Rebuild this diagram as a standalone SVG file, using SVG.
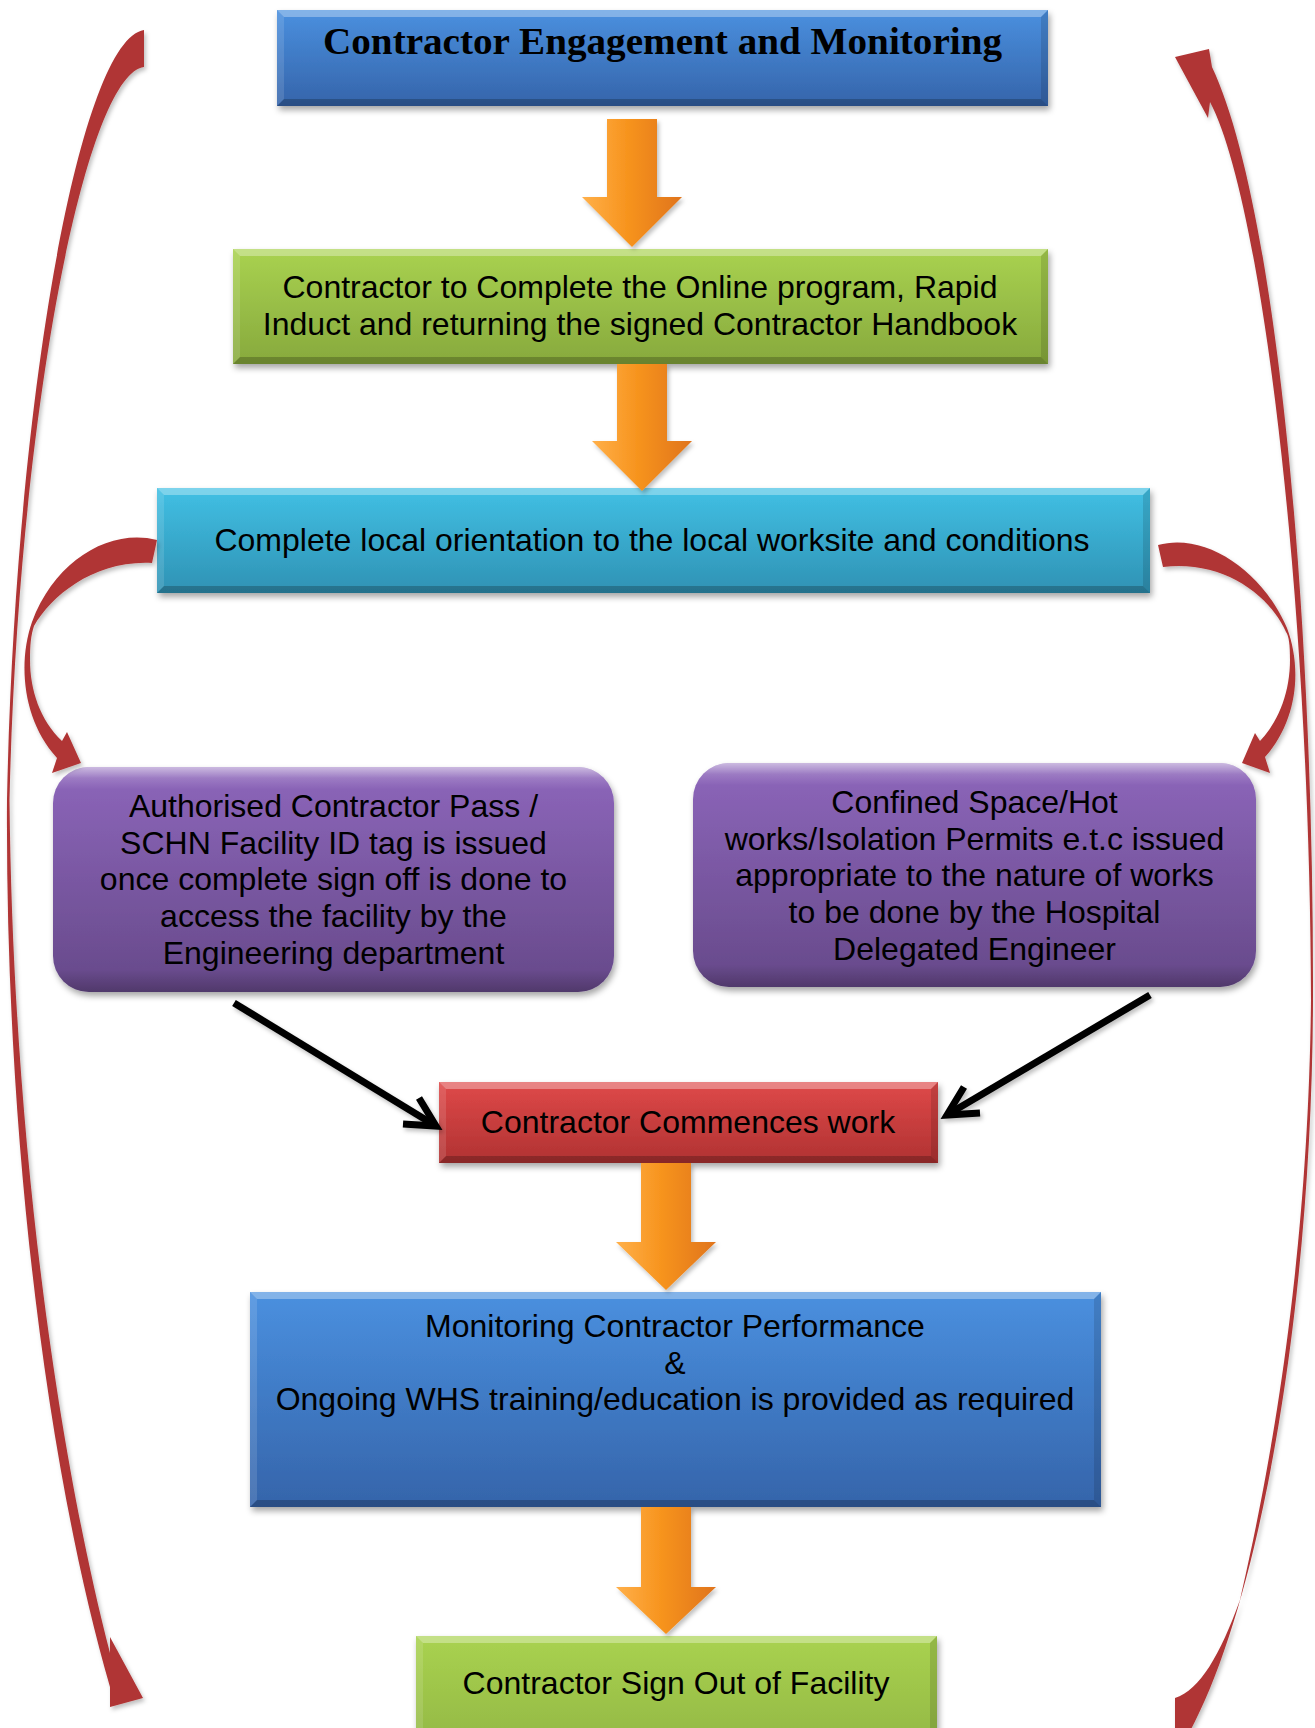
<svg xmlns="http://www.w3.org/2000/svg" width="1315" height="1728" viewBox="0 0 1315 1728">
<defs>
<style>
.t{font-family:"Liberation Sans",Arial,sans-serif;font-size:32px;fill:#000;text-anchor:middle}
.title{font-family:"Liberation Serif","Times New Roman",serif;font-size:38px;font-weight:bold;fill:#000;text-anchor:middle}
.bt{fill:#fff;fill-opacity:.32}
.bl{fill:#fff;fill-opacity:.12}
.br{fill:#000;fill-opacity:.12}
.bb{fill:#000;fill-opacity:.22}
.red{fill:#b03434}
.orange{fill:url(#gOrange)}
.blk{fill:none;stroke:#000;stroke-width:7}
</style>
<linearGradient id="gBlue" x1="0" y1="0" x2="0" y2="1"><stop offset="0" stop-color="#4a90df"/><stop offset="1" stop-color="#3564aa"/></linearGradient>
<linearGradient id="gGreen" x1="0" y1="0" x2="0" y2="1"><stop offset="0" stop-color="#a9d250"/><stop offset="1" stop-color="#87a93d"/></linearGradient>
<linearGradient id="gGreen2" x1="0" y1="0" x2="0" y2="1"><stop offset="0" stop-color="#a9d250"/><stop offset="1" stop-color="#93b844"/></linearGradient>
<linearGradient id="gCyan" x1="0" y1="0" x2="0" y2="1"><stop offset="0" stop-color="#41c0e4"/><stop offset="1" stop-color="#2f92b4"/></linearGradient>
<linearGradient id="gPurple" x1="0" y1="0" x2="0" y2="1"><stop offset="0" stop-color="#8d66bb"/><stop offset="1" stop-color="#664989"/></linearGradient>
<linearGradient id="gRed" x1="0" y1="0" x2="0" y2="1"><stop offset="0" stop-color="#df4949"/><stop offset="1" stop-color="#b03232"/></linearGradient>
<linearGradient id="gOrange" x1="0" y1="0" x2="1" y2="0"><stop offset="0" stop-color="#ffb04a"/><stop offset="0.45" stop-color="#f7941e"/><stop offset="1" stop-color="#e0741c"/></linearGradient>
<linearGradient id="gGloss" x1="0" y1="0" x2="0" y2="1"><stop offset="0" stop-color="#fff" stop-opacity=".55"/><stop offset=".05" stop-color="#fff" stop-opacity=".15"/><stop offset=".1" stop-color="#fff" stop-opacity="0"/><stop offset=".9" stop-color="#000" stop-opacity="0"/><stop offset="1" stop-color="#000" stop-opacity=".22"/></linearGradient>
<filter id="sh" x="-10%" y="-10%" width="120%" height="130%"><feDropShadow dx="2" dy="4" stdDeviation="3" flood-color="#000" flood-opacity=".35"/></filter>
<filter id="sh2" x="-10%" y="-10%" width="130%" height="130%"><feDropShadow dx="2" dy="3" stdDeviation="2" flood-color="#000" flood-opacity=".25"/></filter>
</defs>
<rect width="1315" height="1728" fill="#fff"/>

<g id="node-title">
<rect x="277" y="10" width="771" height="96" fill="url(#gBlue)" filter="url(#sh)"/>
<polygon class="bt" points="277,10 1048,10 1041,17 284,17"/>
<polygon class="bb" points="277,106 1048,106 1041,99 284,99"/>
<polygon class="bl" points="277,10 284,17 284,99 277,106"/>
<polygon class="br" points="1048,10 1041,17 1041,99 1048,106"/>
<text class="title" x="662.5" y="54" textLength="679" lengthAdjust="spacingAndGlyphs">Contractor Engagement and Monitoring</text>
</g>

<g id="node-online">
<rect x="233" y="249" width="815" height="115" fill="url(#gGreen)" filter="url(#sh)"/>
<polygon class="bt" points="233,249 1048,249 1041,256 240,256"/>
<polygon class="bb" points="233,364 1048,364 1041,357 240,357"/>
<polygon class="bl" points="233,249 240,256 240,357 233,364"/>
<polygon class="br" points="1048,249 1041,256 1041,357 1048,364"/>
<text class="t" x="640" y="298">Contractor to Complete the Online program, Rapid</text>
<text class="t" x="640" y="335">Induct and returning the signed Contractor Handbook</text>
</g>

<g id="node-orientation">
<rect x="157" y="488" width="993" height="105" fill="url(#gCyan)" filter="url(#sh)"/>
<polygon class="bt" points="157,488 1150,488 1143,495 164,495"/>
<polygon class="bb" points="157,593 1150,593 1143,586 164,586"/>
<polygon class="bl" points="157,488 164,495 164,586 157,593"/>
<polygon class="br" points="1150,488 1143,495 1143,586 1150,593"/>
<text class="t" x="652" y="551">Complete local orientation to the local worksite and conditions</text>
</g>

<g id="node-pass">
<rect x="53" y="767" width="561" height="225" rx="36" fill="url(#gPurple)" filter="url(#sh)"/>
<rect x="53" y="767" width="561" height="225" rx="36" fill="url(#gGloss)"/>
<text class="t" x="333.5" y="817">Authorised Contractor Pass /</text>
<text class="t" x="333.5" y="854">SCHN Facility ID tag is issued</text>
<text class="t" x="333.5" y="890">once complete sign off is done to</text>
<text class="t" x="333.5" y="927">access the facility by the</text>
<text class="t" x="333.5" y="964">Engineering department</text>
</g>

<g id="node-permits">
<rect x="693" y="763" width="563" height="224" rx="36" fill="url(#gPurple)" filter="url(#sh)"/>
<rect x="693" y="763" width="563" height="224" rx="36" fill="url(#gGloss)"/>
<text class="t" x="974.5" y="813">Confined Space/Hot</text>
<text class="t" x="974.5" y="850">works/Isolation Permits e.t.c issued</text>
<text class="t" x="974.5" y="886">appropriate to the nature of works</text>
<text class="t" x="974.5" y="923">to be done by the Hospital</text>
<text class="t" x="974.5" y="960">Delegated Engineer</text>
</g>

<g id="node-commences">
<rect x="439" y="1082" width="499" height="81" fill="url(#gRed)" filter="url(#sh)"/>
<polygon class="bt" points="439,1082 938,1082 931,1089 446,1089"/>
<polygon class="bb" points="439,1163 938,1163 931,1156 446,1156"/>
<polygon class="bl" points="439,1082 446,1089 446,1156 439,1163"/>
<polygon class="br" points="938,1082 931,1089 931,1156 938,1163"/>
<text class="t" x="688" y="1133">Contractor Commences work</text>
</g>

<g id="node-monitoring">
<rect x="250" y="1292" width="851" height="215" fill="url(#gBlue)" filter="url(#sh)"/>
<polygon class="bt" points="250,1292 1101,1292 1094,1299 257,1299"/>
<polygon class="bb" points="250,1507 1101,1507 1094,1500 257,1500"/>
<polygon class="bl" points="250,1292 257,1299 257,1500 250,1507"/>
<polygon class="br" points="1101,1292 1094,1299 1094,1500 1101,1507"/>
<text class="t" x="675" y="1337">Monitoring Contractor Performance</text>
<text class="t" x="675" y="1374">&amp;</text>
<text class="t" x="675" y="1410">Ongoing WHS training/education is provided as required</text>
</g>

<g id="node-signout">
<rect x="416" y="1636" width="521" height="110" fill="url(#gGreen2)" filter="url(#sh)"/>
<polygon class="bt" points="416,1636 937,1636 930,1643 423,1643"/>
<polygon class="bl" points="416,1636 423,1643 423,1740 416,1740"/>
<polygon class="br" points="937,1636 930,1643 930,1740 937,1740"/>
<text class="t" x="676" y="1694">Contractor Sign Out of Facility</text>
</g>

<g id="connectors">
<g filter="url(#sh2)">
<path class="orange" d="M607,119 L657,119 L657,197 L682,197 L632,247 L582,197 L607,197 Z"/>
<path class="orange" d="M617,364 L667,364 L667,441 L692,441 L642,491 L592,441 L617,441 Z"/>
<path class="orange" d="M641,1163 L691,1163 L691,1242 L716,1242 L666,1290 L616,1242 L641,1242 Z"/>
<path class="orange" d="M641,1507 L691,1507 L691,1587 L716,1587 L666,1634 L616,1587 L641,1587 Z"/>
</g>
<g filter="url(#sh2)">
<path class="red" d="M144,30 C80,40 15,400 7,800 C5,1150 50,1480 110,1687 L110,1707 L143,1698 L110,1637 L110,1653 C60,1460 13,1150 9.5,800 C18,420 85,75 144,67 Z"/>
<path class="red" d="M1175,1698 L1175,1735 L1188,1735 C1262,1600 1312,1300 1313,1000 C1314,600 1275,200 1212,67 L1209,49 L1175,57 L1208,118 L1210,102 C1262,200 1310,600 1311,1000 C1308,1300 1258,1520 1240,1600 C1220,1655 1200,1690 1175,1698 Z"/>
<path class="red" d="M157,540 C110,528 55,560 32,622 C18,662 22,720 57,758 L52,773 L81,763 L67,732 L62,741 C40,720 30,690 30,660 C30,645 31,635 34,626 C52,595 95,560 152,563 Z"/>
<path class="red" d="M1158,545 C1205,532 1262,570 1287,628 C1302,668 1298,720 1265,757 L1270,773 L1242,763 L1255,733 L1260,741 C1280,720 1290,690 1290,660 C1290,645 1289,636 1286,632 C1268,592 1220,560 1163,567 Z"/>
</g>
<g filter="url(#sh2)">
<line class="blk" x1="234" y1="1003" x2="431" y2="1123"/>
<polyline class="blk" points="419,1098 436,1126 403,1124"/>
<line class="blk" x1="1150" y1="995" x2="952" y2="1112"/>
<polyline class="blk" points="964,1087 947,1115 980,1113"/>
</g>
</g>
</svg>
